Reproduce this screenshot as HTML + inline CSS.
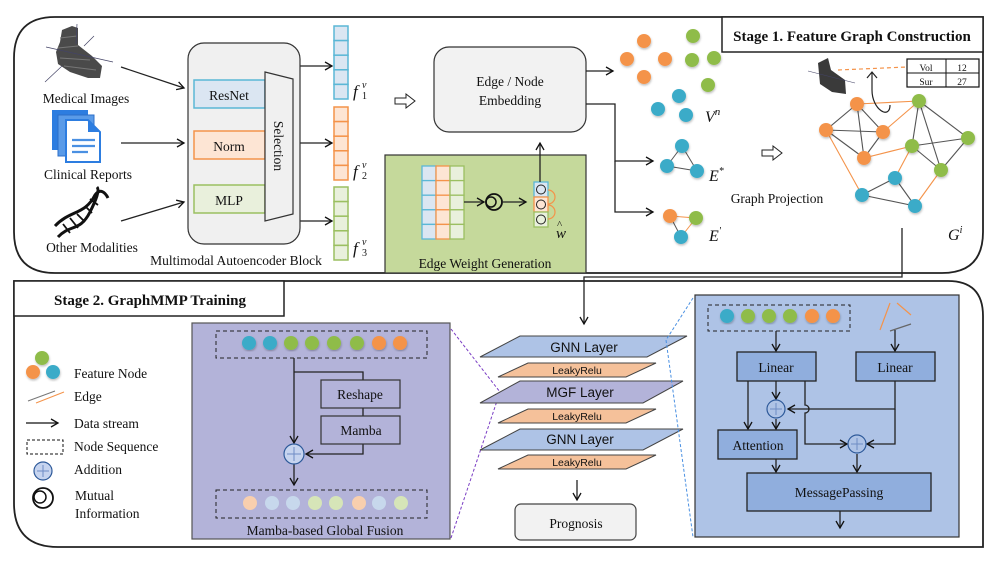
<!DOCTYPE html>
<html><head><meta charset="utf-8"><style>
body{margin:0;background:#fff}
svg{display:block}
text{font-family:"Liberation Serif",serif;fill:#111}
.s{font-family:"Liberation Sans",sans-serif}
</style></head><body>
<svg width="997" height="561" viewBox="0 0 997 561" xmlns="http://www.w3.org/2000/svg">
<defs>
<marker id="a" markerWidth="10" markerHeight="10" refX="8" refY="5" orient="auto" markerUnits="userSpaceOnUse"><path d="M1,1 L8,5 L1,9" fill="none" stroke="#111" stroke-width="1.3"/></marker>
<filter id="sh"><feDropShadow dx="0.5" dy="1.5" stdDeviation="1" flood-color="#000" flood-opacity="0.25"/></filter>
</defs>
<g fill="none" stroke="#222" stroke-width="1.8">
<path d="M55,17 H983 V232 Q983,273 942,273 H55 Q14,273 14,232 V58 Q14,17 55,17 Z"/>
<path d="M14,281 H948 Q983,281 983,316 V547 H58 Q14,547 14,503 Z"/>
</g>
<rect x="722" y="17" width="261" height="35" fill="#fff" stroke="#222" stroke-width="1.5"/>
<text x="852" y="41" font-size="15" font-weight="bold" text-anchor="middle">Stage 1. Feature Graph Construction</text>
<rect x="14" y="281" width="270" height="35" fill="#fff" stroke="#222" stroke-width="1.5"/>
<text x="150" y="305" font-size="15" font-weight="bold" text-anchor="middle">Stage 2. GraphMMP Training</text>

<!-- medical image icon -->
<g>
<path d="M62,30 L72,26 L78,28 L78,45 L92,56 L102,66 L100,78 L88,78 L70,72 L58,64 L56,52 L60,42 Z" fill="#4a4a4a"/>
<path d="M60,38 L77,36 M58,48 L78,46 M60,58 L90,60 M64,66 L96,70" stroke="#777" stroke-width="1"/>
<line x1="46" y1="47" x2="113" y2="62" stroke="#446" stroke-width="0.7"/>
<line x1="45" y1="82" x2="62" y2="66" stroke="#446" stroke-width="0.7"/>
<line x1="77" y1="24" x2="76" y2="44" stroke="#446" stroke-width="0.7"/>
<line x1="84" y1="46" x2="94" y2="36" stroke="#446" stroke-width="0.7"/>
</g>
<text x="86" y="103" font-size="13.5" text-anchor="middle">Medical Images</text>
<g>
<rect x="52" y="110" width="36" height="40" fill="#2d7de0"/>
<rect x="58" y="115" width="36" height="41" fill="#5a9be8" stroke="#2d6fc8"/>
<path d="M66,120 H88 L100,132 V162 H66 Z" fill="#fff" stroke="#2d7de0" stroke-width="2"/>
<path d="M88,120 V132 H100" fill="#2d7de0"/>
<path d="M72,140 H95 M72,146 H95 M72,152 H88" stroke="#4a90e2" stroke-width="2.2"/>
</g>
<text x="88" y="179" font-size="13.5" text-anchor="middle">Clinical Reports</text>
<g fill="none" stroke="#111" stroke-width="3">
<path d="M55,226 C70,210 85,215 95,195 C100,188 105,192 108,198"/>
<path d="M58,237 C70,224 80,232 90,212 C96,200 100,190 97,187"/>
<path d="M63,224 L70,233 M70,218 L78,228 M77,214 L85,222 M85,206 L92,213 M90,199 L98,205" stroke-width="1.8"/>
</g>
<text x="92" y="252" font-size="13.5" text-anchor="middle">Other Modalities</text>

<g stroke="#222" stroke-width="1.3" fill="none" marker-end="url(#a)">
<line x1="121" y1="67" x2="184" y2="88"/>
<line x1="121" y1="143" x2="184" y2="143"/>
<line x1="121" y1="221" x2="184" y2="202"/>
<line x1="300" y1="66" x2="332" y2="66"/>
<line x1="300" y1="143" x2="332" y2="143"/>
<line x1="300" y1="221" x2="332" y2="221"/>
</g>
<rect x="188" y="43" width="112" height="201" rx="16" fill="#f0f0f0" stroke="#333" stroke-width="1.2"/>
<rect x="194" y="80" width="71" height="28" fill="#dbe6f2" stroke="#5bb7d6" stroke-width="1.5"/>
<text x="229" y="100" font-size="13.5" text-anchor="middle">ResNet</text>
<rect x="194" y="131" width="71" height="28" fill="#fde5d4" stroke="#f4934a" stroke-width="1.5"/>
<text x="229" y="151" font-size="13.5" text-anchor="middle">Norm</text>
<rect x="194" y="185" width="71" height="28" fill="#e9f0dc" stroke="#9bbf61" stroke-width="1.5"/>
<text x="229" y="205" font-size="13.5" text-anchor="middle">MLP</text>
<polygon points="265,72 293,79 293,214 265,221" fill="#f0f0f0" stroke="#333" stroke-width="1.2"/>
<text x="0" y="0" font-size="13.5" text-anchor="middle" transform="translate(274,146) rotate(90)">Selection</text>
<text x="236" y="265" font-size="13.5" text-anchor="middle">Multimodal Autoencoder Block</text>
<g stroke-width="1.5">
<g fill="#dbe6f2" stroke="#5bb7d6"><rect x="334" y="26" width="14" height="14.6"/><rect x="334" y="40.6" width="14" height="14.6"/><rect x="334" y="55.2" width="14" height="14.6"/><rect x="334" y="69.8" width="14" height="14.6"/><rect x="334" y="84.4" width="14" height="14.6"/></g>
<g fill="#fde5d4" stroke="#f4934a"><rect x="334" y="107" width="14" height="14.6"/><rect x="334" y="121.6" width="14" height="14.6"/><rect x="334" y="136.2" width="14" height="14.6"/><rect x="334" y="150.8" width="14" height="14.6"/><rect x="334" y="165.4" width="14" height="14.6"/></g>
<g fill="#e9f0dc" stroke="#9bbf61"><rect x="334" y="187" width="14" height="14.6"/><rect x="334" y="201.6" width="14" height="14.6"/><rect x="334" y="216.2" width="14" height="14.6"/><rect x="334" y="230.8" width="14" height="14.6"/><rect x="334" y="245.4" width="14" height="14.6"/></g>
</g>
<g>
<text x="353" y="97" font-size="17" font-style="italic">f</text><text x="362" y="88" font-size="10" font-style="italic">v</text><text x="362" y="99" font-size="10">1</text>
<text x="353" y="177" font-size="17" font-style="italic">f</text><text x="362" y="168" font-size="10" font-style="italic">v</text><text x="362" y="179" font-size="10">2</text>
<text x="353" y="254" font-size="17" font-style="italic">f</text><text x="362" y="245" font-size="10" font-style="italic">v</text><text x="362" y="256" font-size="10">3</text>
</g>
<g fill="#fff" stroke="#222" stroke-width="1">
<path d="M395,98 H406 V94 L415,101 L406,108 V104 H395 Z"/>
<path d="M395,202 H406 V198 L415,205 L406,212 V208 H395 Z"/>
<path d="M762,150 H773 V146 L782,153 L773,160 V156 H762 Z"/>
</g>
<rect x="434" y="47" width="152" height="85" rx="15" fill="#f2f2f2" stroke="#333" stroke-width="1.2"/>
<text x="510" y="86" font-size="13.5" text-anchor="middle">Edge / Node</text>
<text x="510" y="105" font-size="13.5" text-anchor="middle">Embedding</text>
<rect x="385" y="155" width="201" height="118" fill="#c5d99b" stroke="#333" stroke-width="1.2"/>
<g stroke-width="1.3">
<g fill="#dbe6f2" stroke="#5bb7d6"><rect x="422" y="166" width="14" height="14.6"/><rect x="422" y="180.6" width="14" height="14.6"/><rect x="422" y="195.2" width="14" height="14.6"/><rect x="422" y="209.8" width="14" height="14.6"/><rect x="422" y="224.4" width="14" height="14.6"/></g>
<g fill="#fde5d4" stroke="#f4934a"><rect x="436" y="166" width="14" height="14.6"/><rect x="436" y="180.6" width="14" height="14.6"/><rect x="436" y="195.2" width="14" height="14.6"/><rect x="436" y="209.8" width="14" height="14.6"/><rect x="436" y="224.4" width="14" height="14.6"/></g>
<g fill="#e9f0dc" stroke="#9bbf61"><rect x="450" y="166" width="14" height="14.6"/><rect x="450" y="180.6" width="14" height="14.6"/><rect x="450" y="195.2" width="14" height="14.6"/><rect x="450" y="209.8" width="14" height="14.6"/><rect x="450" y="224.4" width="14" height="14.6"/></g>
</g>
<line x1="464" y1="202" x2="484" y2="202" stroke="#222" stroke-width="1.3" marker-end="url(#a)"/>
<circle cx="494" cy="202" r="8" fill="none" stroke="#111" stroke-width="1.8"/>
<circle cx="491" cy="202" r="5" fill="none" stroke="#111" stroke-width="1.5"/>
<line x1="502" y1="202" x2="526" y2="202" stroke="#222" stroke-width="1.3" marker-end="url(#a)"/>
<rect x="534" y="182" width="14" height="15" fill="#dbe6f2" stroke="#5bb7d6" stroke-width="1.3"/>
<rect x="534" y="197" width="14" height="15" fill="#fde5d4" stroke="#f4934a" stroke-width="1.3"/>
<rect x="534" y="212" width="14" height="15" fill="#e9f0dc" stroke="#9bbf61" stroke-width="1.3"/>
<g fill="none" stroke="#222" stroke-width="1"><circle cx="541" cy="189.5" r="4.5"/><circle cx="541" cy="204.5" r="4.5"/><circle cx="541" cy="219.5" r="4.5"/></g>
<path d="M548,190 A7,7 0 0 1 548,204 M548,205 A7,7 0 0 1 548,219" fill="none" stroke="#f4934a" stroke-width="1.2"/>
<text x="556" y="238" font-size="15" font-style="italic">w</text><text x="557" y="228" font-size="11">^</text>
<text x="485" y="268" font-size="13.5" text-anchor="middle">Edge Weight Generation</text>
<g stroke="#222" stroke-width="1.3" fill="none" marker-end="url(#a)">
<line x1="540" y1="182" x2="540" y2="143"/>
<line x1="586" y1="71" x2="613" y2="71"/>
<polyline points="586,104 615,104 615,161 653,161"/>
<polyline points="615,161 615,212 653,212"/>
</g>
<g filter="url(#sh)">
<g fill="#f4934a"><circle cx="644" cy="41" r="7"/><circle cx="627" cy="59" r="7"/><circle cx="665" cy="59" r="7"/><circle cx="644" cy="77" r="7"/></g>
<g fill="#8fbc4a"><circle cx="693" cy="36" r="7"/><circle cx="692" cy="60" r="7"/><circle cx="714" cy="58" r="7"/><circle cx="708" cy="85" r="7"/></g>
<g fill="#3aabc8"><circle cx="679" cy="96" r="7"/><circle cx="658" cy="109" r="7"/><circle cx="686" cy="115" r="7"/></g>
</g>
<text x="705" y="122" font-size="16" font-style="italic">V<tspan font-size="11" dy="-7">n</tspan></text>
<g stroke="#555" stroke-width="1"><line x1="682" y1="146" x2="667" y2="166"/><line x1="682" y1="146" x2="697" y2="171"/><line x1="667" y1="166" x2="697" y2="171"/></g>
<g filter="url(#sh)" fill="#3aabc8"><circle cx="682" cy="146" r="7"/><circle cx="667" cy="166" r="7"/><circle cx="697" cy="171" r="7"/></g>
<text x="709" y="181" font-size="16" font-style="italic">E<tspan font-size="10" dy="-7">*</tspan></text>
<g stroke="#f4934a" stroke-width="1"><line x1="670" y1="216" x2="696" y2="218"/><line x1="696" y1="218" x2="681" y2="237"/></g>
<line x1="670" y1="216" x2="681" y2="237" stroke="#555"/>
<g filter="url(#sh)"><circle cx="670" cy="216" r="7" fill="#f4934a"/><circle cx="696" cy="218" r="7" fill="#8fbc4a"/><circle cx="681" cy="237" r="7" fill="#3aabc8"/></g>
<text x="709" y="241" font-size="16" font-style="italic">E<tspan font-size="10" dy="-7">'</tspan></text>
<text x="777" y="203" font-size="13.5" text-anchor="middle">Graph Projection</text>
<g stroke="#555" stroke-width="1.1">
<line x1="857" y1="104" x2="826" y2="130"/><line x1="857" y1="104" x2="883" y2="132"/><line x1="857" y1="104" x2="864" y2="158"/>
<line x1="826" y1="130" x2="883" y2="132"/><line x1="826" y1="130" x2="864" y2="158"/><line x1="883" y1="132" x2="864" y2="158"/>
<line x1="919" y1="101" x2="912" y2="146"/><line x1="919" y1="101" x2="968" y2="138"/><line x1="919" y1="101" x2="941" y2="170"/>
<line x1="912" y1="146" x2="968" y2="138"/><line x1="912" y1="146" x2="941" y2="170"/><line x1="968" y1="138" x2="941" y2="170"/>
<line x1="895" y1="178" x2="862" y2="195"/><line x1="895" y1="178" x2="915" y2="206"/><line x1="862" y1="195" x2="915" y2="206"/>
</g>
<g stroke="#f4934a" stroke-width="1.1">
<line x1="857" y1="104" x2="919" y2="101"/><line x1="883" y1="132" x2="919" y2="101"/><line x1="864" y1="158" x2="912" y2="146"/>
<line x1="826" y1="130" x2="862" y2="195"/><line x1="912" y1="146" x2="895" y2="178"/><line x1="941" y1="170" x2="915" y2="206"/>
</g>
<g filter="url(#sh)">
<g fill="#f4934a"><circle cx="857" cy="104" r="7"/><circle cx="826" cy="130" r="7"/><circle cx="883" cy="132" r="7"/><circle cx="864" cy="158" r="7"/></g>
<g fill="#8fbc4a"><circle cx="919" cy="101" r="7"/><circle cx="968" cy="138" r="7"/><circle cx="912" cy="146" r="7"/><circle cx="941" cy="170" r="7"/></g>
<g fill="#3aabc8"><circle cx="895" cy="178" r="7"/><circle cx="862" cy="195" r="7"/><circle cx="915" cy="206" r="7"/></g>
</g>
<text x="948" y="240" font-size="16" font-style="italic">G<tspan font-size="10" dy="-7">i</tspan></text>
<path d="M818,63 L828,58 L831,70 L845,80 L846,94 L832,92 L820,84 Z" fill="#3a3a3a"/>
<line x1="808" y1="71" x2="855" y2="83" stroke="#446" stroke-width="0.6"/>
<line x1="838" y1="70" x2="907" y2="67" stroke="#f4934a" stroke-width="1.2" stroke-dasharray="4,3"/>
<path d="M872,72 L872,90 C872,110 890,120 890,105" fill="none" stroke="#222" stroke-width="1.2"/>
<path d="M867,78 L872,72 L877,78" fill="none" stroke="#222" stroke-width="1.2"/>
<rect x="907" y="59" width="72" height="28" fill="#fff" stroke="#111" stroke-width="1.2"/>
<line x1="907" y1="73" x2="979" y2="73" stroke="#111"/><line x1="946" y1="59" x2="946" y2="87" stroke="#111"/>
<text x="926" y="71" font-size="9.5" text-anchor="middle">Vol</text><text x="962" y="71" font-size="9.5" text-anchor="middle">12</text>
<text x="926" y="85" font-size="9.5" text-anchor="middle">Sur</text><text x="962" y="85" font-size="9.5" text-anchor="middle">27</text>
<polyline points="902,228 902,277 584,277 584,324" fill="none" stroke="#222" stroke-width="1.3" marker-end="url(#a)"/>

<g filter="url(#sh)"><circle cx="42" cy="358" r="7" fill="#8fbc4a"/><circle cx="33" cy="372" r="7" fill="#f4934a"/><circle cx="53" cy="372" r="7" fill="#3aabc8"/></g>
<text x="74" y="378" font-size="13.5">Feature Node</text>
<line x1="28" y1="401" x2="55" y2="391" stroke="#777"/><line x1="36" y1="403" x2="64" y2="392" stroke="#f4934a"/>
<text x="74" y="401" font-size="13.5">Edge</text>
<line x1="26" y1="423" x2="58" y2="423" stroke="#111" stroke-width="1.3" marker-end="url(#a)"/>
<text x="74" y="428" font-size="13.5">Data stream</text>
<rect x="27" y="440" width="36" height="14" fill="none" stroke="#111" stroke-dasharray="3,2"/>
<text x="74" y="451" font-size="13.5">Node Sequence</text>
<circle cx="43" cy="471" r="9" fill="#c6d4ef" stroke="#2e5a9a" stroke-width="1.2"/><path d="M37,471 H49 M43,465 V477" stroke="#6f8cc4"/>
<text x="74" y="474" font-size="13.5">Addition</text>
<circle cx="43" cy="498" r="10" fill="none" stroke="#111" stroke-width="1.8"/><circle cx="40" cy="497" r="6" fill="none" stroke="#111" stroke-width="1.5"/>
<text x="75" y="500" font-size="13.5">Mutual</text><text x="75" y="518" font-size="13.5">Information</text>

<rect x="192" y="323" width="258" height="216" fill="#b3b3d9" stroke="#555" stroke-width="1.2"/>
<rect x="216" y="331" width="211" height="27" fill="none" stroke="#222" stroke-dasharray="4,3"/>
<g filter="url(#sh)">
<circle cx="249" cy="343" r="7" fill="#3aabc8"/><circle cx="270" cy="343" r="7" fill="#3aabc8"/><circle cx="291" cy="343" r="7" fill="#8fbc4a"/><circle cx="312" cy="343" r="7" fill="#8fbc4a"/><circle cx="334" cy="343" r="7" fill="#8fbc4a"/><circle cx="357" cy="343" r="7" fill="#8fbc4a"/><circle cx="379" cy="343" r="7" fill="#f4934a"/><circle cx="400" cy="343" r="7" fill="#f4934a"/>
</g>
<g fill="none" stroke="#222" stroke-width="1.3">
<line x1="294" y1="358" x2="294" y2="443" marker-end="url(#a)"/>
<polyline points="294,372 363,372 363,380"/>
<line x1="363" y1="408" x2="363" y2="416"/>
<polyline points="363,444 363,454 306,454" marker-end="url(#a)"/>
<line x1="294" y1="464" x2="294" y2="485" marker-end="url(#a)"/>
</g>
<rect x="321" y="380" width="79" height="28" fill="#b3b3d9" stroke="#333" stroke-width="1.2"/>
<text x="360" y="399" font-size="13.5" text-anchor="middle">Reshape</text>
<rect x="321" y="416" width="79" height="28" fill="#b3b3d9" stroke="#333" stroke-width="1.2"/>
<text x="361" y="435" font-size="13.5" text-anchor="middle">Mamba</text>
<circle cx="294" cy="454" r="10" fill="#c6d4ef" stroke="#2e5a9a" stroke-width="1.2"/><path d="M287,454 H301 M294,447 V461" stroke="#6f8cc4"/>
<rect x="216" y="490" width="211" height="28" fill="none" stroke="#222" stroke-dasharray="4,3"/>
<g>
<circle cx="250" cy="503" r="7" fill="#f8cfae"/><circle cx="272" cy="503" r="7" fill="#c7d8ec"/><circle cx="293" cy="503" r="7" fill="#c7d8ec"/><circle cx="315" cy="503" r="7" fill="#d6e5b8"/><circle cx="336" cy="503" r="7" fill="#d6e5b8"/><circle cx="359" cy="503" r="7" fill="#f8cfae"/><circle cx="379" cy="503" r="7" fill="#c7d8ec"/><circle cx="401" cy="503" r="7" fill="#d6e5b8"/>
</g>
<text x="325" y="535" font-size="13.5" text-anchor="middle">Mamba-based Global Fusion</text>
<line x1="451" y1="329" x2="500" y2="392" stroke="#7a3dc4" stroke-dasharray="3,2"/>
<line x1="451" y1="538" x2="500" y2="392" stroke="#7a3dc4" stroke-dasharray="3,2"/>

<g stroke="#444" stroke-width="1">
<polygon points="520,336 687,336 647,357 480,357" fill="#aec3e6"/>
<polygon points="528,363 656,363 626,377 498,377" fill="#f5c19a"/>
<polygon points="520,381 683,381 643,403 480,403" fill="#b3b3d9"/>
<polygon points="528,409 656,409 626,423 498,423" fill="#f5c19a"/>
<polygon points="520,429 683,429 643,450 480,450" fill="#aec3e6"/>
<polygon points="528,455 656,455 626,469 498,469" fill="#f5c19a"/>
</g>
<g text-anchor="middle">
<text class="s" x="584" y="352" font-size="13.5">GNN Layer</text>
<text class="s" x="577" y="374" font-size="10.5">LeakyRelu</text>
<text class="s" x="580" y="397" font-size="13.5">MGF Layer</text>
<text class="s" x="577" y="420" font-size="10.5">LeakyRelu</text>
<text class="s" x="580" y="444" font-size="13.5">GNN Layer</text>
<text class="s" x="577" y="466" font-size="10.5">LeakyRelu</text>
</g>
<line x1="577" y1="480" x2="577" y2="500" stroke="#222" stroke-width="1.3" marker-end="url(#a)"/>
<rect x="515" y="504" width="121" height="36" rx="6" fill="#f2f2f2" stroke="#444" stroke-width="1.2"/>
<text x="576" y="528" font-size="13.5" text-anchor="middle">Prognosis</text>
<polyline points="693,298 666,340 693,537" fill="none" stroke="#4a90e2" stroke-dasharray="3,2"/>

<rect x="695" y="295" width="264" height="242" fill="#aec3e6" stroke="#333" stroke-width="1.2"/>
<rect x="708" y="305" width="142" height="26" fill="none" stroke="#222" stroke-dasharray="4,3"/>
<g filter="url(#sh)">
<circle cx="727" cy="316" r="7" fill="#3aabc8"/><circle cx="748" cy="316" r="7" fill="#8fbc4a"/><circle cx="769" cy="316" r="7" fill="#8fbc4a"/><circle cx="790" cy="316" r="7" fill="#8fbc4a"/><circle cx="812" cy="316" r="7" fill="#f4934a"/><circle cx="833" cy="316" r="7" fill="#f4934a"/>
</g>
<line x1="890" y1="303" x2="880" y2="330" stroke="#f4934a" stroke-width="1.2"/>
<line x1="897" y1="303" x2="911" y2="315" stroke="#f4934a" stroke-width="1.2"/>
<line x1="890" y1="331" x2="911" y2="324" stroke="#666" stroke-width="1.2"/>
<g fill="none" stroke="#222" stroke-width="1.3">
<line x1="776" y1="331" x2="776" y2="351" marker-end="url(#a)"/>
<line x1="895" y1="330" x2="895" y2="351" marker-end="url(#a)"/>
<line x1="748" y1="381" x2="748" y2="429" marker-end="url(#a)"/>
<line x1="776" y1="381" x2="776" y2="399" marker-end="url(#a)"/>
<line x1="776" y1="419" x2="776" y2="429" marker-end="url(#a)"/>
<polyline points="895,381 895,409 809,409 788,409" marker-end="url(#a)"/>
<path d="M805,381 V405 A4,4 0 0 1 805,413 V444 H847" marker-end="url(#a)"/>
<polyline points="895,409 895,444 867,444" marker-end="url(#a)"/>
<line x1="776" y1="459" x2="776" y2="472" marker-end="url(#a)"/>
<line x1="857" y1="454" x2="857" y2="472" marker-end="url(#a)"/>
<line x1="840" y1="511" x2="840" y2="528" marker-end="url(#a)"/>
</g>
<rect x="737" y="352" width="79" height="29" fill="#90aedd" stroke="#222" stroke-width="1.3"/>
<text x="776" y="372" font-size="13.5" text-anchor="middle">Linear</text>
<rect x="856" y="352" width="79" height="29" fill="#90aedd" stroke="#222" stroke-width="1.3"/>
<text x="895" y="372" font-size="13.5" text-anchor="middle">Linear</text>
<circle cx="776" cy="409" r="9" fill="#aec3e6" stroke="#2e5a9a" stroke-width="1.2"/><path d="M770,409 H782 M776,403 V415" stroke="#6f8cc4"/>
<circle cx="857" cy="444" r="9" fill="#aec3e6" stroke="#2e5a9a" stroke-width="1.2"/><path d="M851,444 H863 M857,438 V450" stroke="#6f8cc4"/>
<rect x="718" y="430" width="79" height="29" fill="#90aedd" stroke="#222" stroke-width="1.3"/>
<text x="758" y="450" font-size="13.5" text-anchor="middle">Attention</text>
<rect x="747" y="473" width="184" height="38" fill="#90aedd" stroke="#222" stroke-width="1.3"/>
<text x="839" y="497" font-size="13.5" text-anchor="middle">MessagePassing</text>
</svg>
</body></html>
